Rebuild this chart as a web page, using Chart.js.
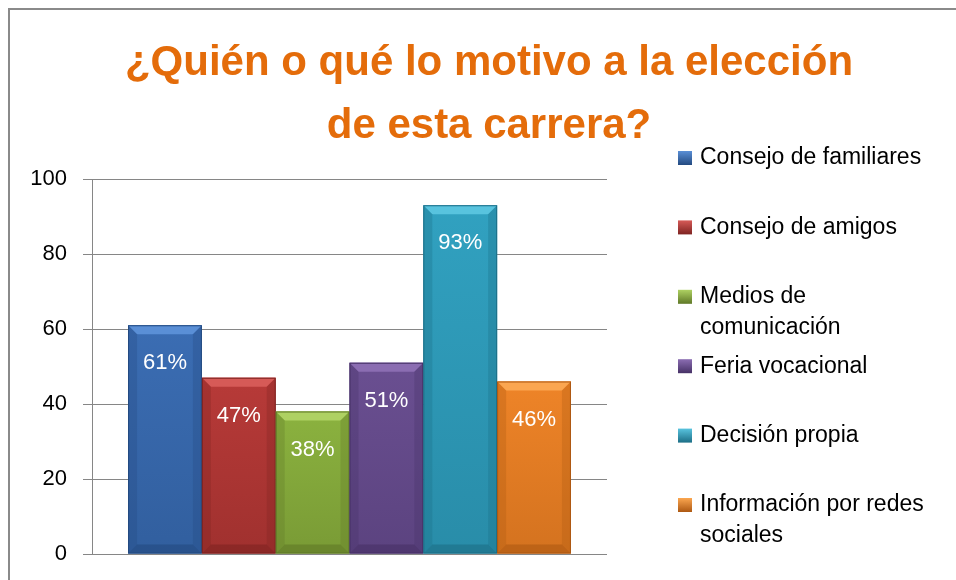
<!DOCTYPE html>
<html>
<head>
<meta charset="utf-8">
<script src="https://cdn.jsdelivr.net/npm/chart.js@4"></script>
<style>
  body { margin: 0; background: #fff; }
</style>
</head>
<body>
<canvas id="motivoChart" width="956" height="580"></canvas>
<script>
// --- datos ---
const tituloLineas = ['¿Quién o qué lo motivo a la elección', 'de esta carrera?'];
const categorias = ['Consejo de familiares', 'Consejo de amigos', 'Medios de comunicación',
                    'Feria vocacional', 'Decisión propia', 'Información por redes sociales'];
const porcentajes = [61, 47, 38, 51, 93, 46];
const ticksY = [0, 20, 40, 60, 80, 100];

// colores (base, claro, oscuro)
const colores = [
    ['#3b6db3', '#5a8fd6', '#234a80'],
    ['#b73a38', '#d65a57', '#7e2321'],
    ['#8bb23f', '#aed162', '#5f7827'],
    ['#6a4f91', '#8b6db2', '#463166'],
    ['#31a1c0', '#58c3de', '#1c6e86'],
    ['#ee8428', '#fba650', '#ad5812']
];

const fuente = '"Liberation Sans", Arial, sans-serif';

// plugin: marco, título, bisel, etiquetas y leyenda
const decoracion = {
    id: 'decoracion',
    beforeDraw(chart) {
        const ctx = chart.ctx;
        ctx.save();
        ctx.strokeStyle = '#8a8a8a';
        ctx.lineWidth = 2;
        ctx.beginPath();
        ctx.moveTo(9, 1000); ctx.lineTo(9, 9); ctx.lineTo(1000, 9);
        ctx.stroke();
        // título
        ctx.fillStyle = '#E46C0A';
        ctx.font = 'bold 42px ' + fuente;
        ctx.textAlign = 'center';
        ctx.textBaseline = 'middle';
        ctx.fillText(tituloLineas[0], 489, 63);
        ctx.fillText(tituloLineas[1], 489, 126);
        ctx.restore();
    },
    afterDatasetsDraw(chart) {
        const ctx = chart.ctx;
        ctx.save();
        chart.data.datasets.forEach((ds, i) => {
            const bar = chart.getDatasetMeta(i).data[0];
            const c = colores[i];
            const w = bar.width, x0 = bar.x - w / 2, x1 = bar.x + w / 2;
            const top = bar.y, bot = bar.base, h = bot - top;
            // cuerpo con degradado vertical
            const gv = ctx.createLinearGradient(0, top, 0, bot);
            gv.addColorStop(0, c[0]);
            gv.addColorStop(1, c[2]);
            ctx.globalAlpha = 0.4;
            ctx.fillStyle = gv;
            ctx.fillRect(x0, top, w, h);
            ctx.globalAlpha = 1;
            const b = 9;
            // bisel superior (claro)
            ctx.fillStyle = c[1];
            ctx.beginPath();
            ctx.moveTo(x0, top); ctx.lineTo(x1, top); ctx.lineTo(x1 - b, top + b); ctx.lineTo(x0 + b, top + b);
            ctx.closePath(); ctx.fill();
            // bisel inferior y laterales (oscuro, suave)
            ctx.fillStyle = c[2];
            ctx.globalAlpha = 0.6;
            ctx.beginPath();
            ctx.moveTo(x0, bot); ctx.lineTo(x1, bot); ctx.lineTo(x1 - b, bot - b); ctx.lineTo(x0 + b, bot - b);
            ctx.closePath(); ctx.fill();
            ctx.globalAlpha = 0.3;
            ctx.beginPath();
            ctx.moveTo(x0, top); ctx.lineTo(x0 + b, top + b); ctx.lineTo(x0 + b, bot - b); ctx.lineTo(x0, bot);
            ctx.closePath(); ctx.fill();
            ctx.beginPath();
            ctx.moveTo(x1, top); ctx.lineTo(x1 - b, top + b); ctx.lineTo(x1 - b, bot - b); ctx.lineTo(x1, bot);
            ctx.closePath(); ctx.fill();
            ctx.globalAlpha = 1;
            ctx.strokeStyle = c[2];
            ctx.lineWidth = 1;
            ctx.strokeRect(x0 + 0.5, top + 0.5, w - 1, h - 1);
            // etiqueta
            ctx.fillStyle = '#fff';
            ctx.font = '22px ' + fuente;
            ctx.textAlign = 'center';
            ctx.textBaseline = 'middle';
            ctx.fillText(ds.data[0] + '%', bar.x, top + 38);
        });
        // leyenda
        ctx.textAlign = 'left';
        ctx.textBaseline = 'middle';
        ctx.font = '23px ' + fuente;
        let y = 158;
        chart.data.datasets.forEach((ds, i) => {
            const c = colores[i];
            const g = ctx.createLinearGradient(0, y - 7, 0, y + 7);
            g.addColorStop(0, c[1]);
            g.addColorStop(1, c[2]);
            ctx.fillStyle = g;
            ctx.fillRect(678, y - 7, 14, 14);
            ctx.fillStyle = '#000';
            const palabras = ds.label.split(' ');
            const lineas = [];
            let linea = '';
            palabras.forEach(p => {
                const prueba = linea ? linea + ' ' + p : p;
                if (ctx.measureText(prueba).width > 245 && linea) {
                    lineas.push(linea);
                    linea = p;
                } else {
                    linea = prueba;
                }
            });
            lineas.push(linea);
            lineas.forEach((l, k) => ctx.fillText(l, 700, y + k * 31));
            y += 69.4;
        });
        ctx.restore();
    }
};

new Chart(document.getElementById('motivoChart'), {
    type: 'bar',
    data: {
        labels: [''],
        datasets: categorias.map((nombre, i) => ({
            label: nombre,
            data: [porcentajes[i]],
            backgroundColor: colores[i][0],
            borderWidth: 0,
            categoryPercentage: 0.86,
            barPercentage: 1
        }))
    },
    options: {
        responsive: false,
        animation: false,
        layout: { padding: { left: 0, top: 179, right: 349, bottom: 26 } },
        scales: {
            x: { display: false },
            y: {
                min: 0,
                max: 100,
                afterFit: (s) => { s.width = 92; s.paddingTop = 0; s.paddingBottom = 0; },
                afterBuildTicks: (s) => { s.ticks = ticksY.map(v => ({ value: v })); },
                ticks: {
                    color: '#000',
                    font: { family: fuente, size: 22 },
                    padding: 16
                },
                grid: { color: '#868686', tickLength: 9, lineWidth: 1 },
                border: { color: '#868686' }
            }
        },
        plugins: {
            legend: { display: false },
            title: { display: false },
            tooltip: { enabled: false }
        }
    },
    plugins: [decoracion]
});
</script>
</body>
</html>
